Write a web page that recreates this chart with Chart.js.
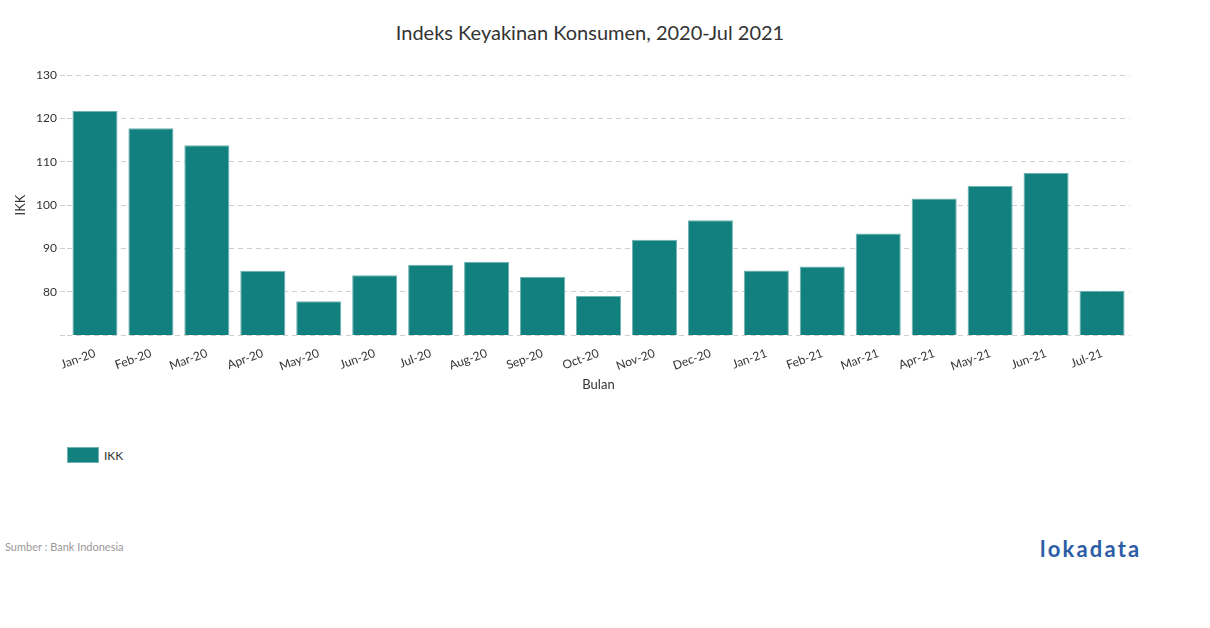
<!DOCTYPE html>
<html>
<head>
<meta charset="utf-8">
<script src="https://cdn.jsdelivr.net/npm/chart.js@4"></script>
<style>
  body { margin: 0; background: #fff; font-family: Lato, sans-serif; }
  #wrap { position: relative; width: 1210px; height: 628px; }
  #title { position: absolute; left: 390px; width: 400px; top: 20px; text-align: center; font-size: 20px; color: #333; }
  #chartBox { position: absolute; left: 0; top: 0; width: 1210px; height: 400px; }
  #legend { position: absolute; left: 67px; top: 447px; font-size: 12px; color: #333; display: flex; align-items: center; }
  #legend span.box { display: inline-block; width: 30px; height: 14px; background: #11807e; border: 1px solid #6fb3b1; margin-right: 5px; }
  #source { position: absolute; left: 5px; top: 540px; font-size: 11px; color: #999; }
  #logo { position: absolute; left: 1040px; top: 535px; font-size: 22px; font-weight: bold; color: #2d5ca6; letter-spacing: 2.2px; }
</style>
</head>
<body>
<div id="wrap">
  <div id="title">Indeks Keyakinan Konsumen, 2020-Jul 2021</div>
  <div id="chartBox"><canvas id="ikkChart"></canvas></div>
  <div id="legend"><span class="box"></span>IKK</div>
  <div id="source">Sumber : Bank Indonesia</div>
  <div id="logo">lokadata</div>
</div>
<script>
// Data
const months = ['Jan-20', 'Feb-20', 'Mar-20', 'Apr-20', 'May-20', 'Jun-20', 'Jul-20', 'Aug-20', 'Sep-20', 'Oct-20',
  'Nov-20', 'Dec-20', 'Jan-21', 'Feb-21', 'Mar-21', 'Apr-21', 'May-21', 'Jun-21', 'Jul-21'];
const ikkValues = [121.7, 117.7, 113.8, 84.8, 77.8, 83.8, 86.2, 86.9, 83.4, 79.0,
  92.0, 96.5, 84.9, 85.8, 93.4, 101.5, 104.4, 107.4, 80.2];
const yTicks = [70, 80, 90, 100, 110, 120, 130];

const TEAL = '#11807e';
const GRID = '#cfcfcf';

new Chart(document.getElementById('ikkChart'), {
  type: 'bar',
  data: {
    labels: months,
    datasets: [{
      label: 'IKK',
      data: ikkValues,
      backgroundColor: TEAL,
      borderColor: '#6fb3b1',
      borderWidth: 1,
      barPercentage: 0.9,
      categoryPercentage: 0.895
    }]
  },
  options: {
    responsive: true,
    maintainAspectRatio: false,
    animation: false,
    layout: { padding: { left: 0, right: 80, top: 75, bottom: 0 } },
    plugins: {
      legend: { display: false },
      tooltip: { enabled: false },
      title: { display: false }
    },
    scales: {
      y: {
        min: yTicks[0],
        max: yTicks[yTicks.length - 1],
        afterBuildTicks: (scale) => { scale.ticks = yTicks.map((v) => ({ value: v })); },
        afterFit: (scale) => { scale.width = 67; },
        border: { display: false, dash: [5, 4] },
        grid: {
          color: GRID,
          tickBorderDash: [5, 4],
          tickLength: 7,
          tickColor: GRID
        },
        ticks: {
          color: '#333',
          padding: 3,
          font: { family: 'Lato', size: 12 },
          // bottom gridline stays, but without a "70" label
          callback: (val) => (val === yTicks[0] ? '' : val)
        },
        title: {
          display: true,
          text: 'IKK',
          color: '#333',
          font: { family: 'Lato', size: 13 },
          padding: { top: 13, bottom: 0 }
        }
      },
      x: {
        afterFit: (scale) => { scale.height = 65; },
        border: { display: false },
        grid: { display: false },
        ticks: {
          color: '#333',
          font: { family: 'Lato', size: 12 },
          minRotation: 20,
          maxRotation: 20,
          padding: 3
        },
        title: {
          display: true,
          text: 'Bulan',
          color: '#333',
          font: { family: 'Lato', size: 13 },
          padding: { top: 0, bottom: 7 }
        }
      }
    }
  }
});
</script>
</body>
</html>
